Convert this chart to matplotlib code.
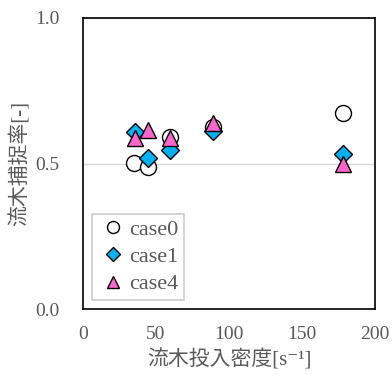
import numpy as np
import matplotlib
matplotlib.use("Agg")
import matplotlib.pyplot as plt

plt.rcParams['font.family'] = ['Liberation Serif', 'Noto Sans CJK JP', 'DejaVu Sans']

# data
x0 = [35.1, 44.7, 59.6, 89.3, 178.0]
y0 = [0.503, 0.489, 0.590, 0.624, 0.675]
x1 = [35.6, 44.3, 59.6, 89.3, 178.0]
y1 = [0.609, 0.518, 0.546, 0.613, 0.533]
x4 = [35.6, 44.3, 59.6, 89.3, 178.0]
y4 = [0.587, 0.615, 0.587, 0.638, 0.498]
labels = ["case0", "case1", "case4"]

grey = "#595959"

fig = plt.figure(figsize=(3.92, 3.74), dpi=100)
ax = fig.add_axes([83 / 392, 1 - 309 / 374, 292 / 392, 291 / 374])

ax.plot(x0, y0, "o", ms=11.5, mfc="white", mec="black", mew=1.0, label=labels[0], zorder=3)
ax.plot(x1, y1, "D", ms=9, mfc="#00b0f0", mec="black", mew=1.0, label=labels[1], zorder=4)
ax.plot(x4, y4, "^", ms=12, mfc="#ff66cc", mec="black", mew=1.0, label=labels[2], zorder=5)

ax.set_xlim(0, 200)
ax.set_ylim(0, 1.0)
ax.set_xticks([0, 50, 100, 150, 200])
ax.set_yticks([0.0, 0.5, 1.0])
ax.set_yticklabels(["0.0", "0.5", "1.0"])
ax.tick_params(length=0, labelsize=14, labelcolor=grey)
ax.tick_params(axis="y", pad=17)
ax.tick_params(axis="x", pad=12)
ax.grid(axis="y", color="#d9d9d9", lw=1.0)
ax.set_axisbelow(True)
for s in ax.spines.values():
    s.set_linewidth(1.2)

ax.set_xlabel("流木投入密度[s⁻¹]", fontsize=15, color=grey, labelpad=5)
ax.set_ylabel("流木捕捉率[-]", fontsize=15, color=grey, labelpad=3)

leg = ax.legend(loc="lower left", fontsize=16, frameon=True, fancybox=False,
                handletextpad=0.0, handlelength=1.4, borderpad=0.25, labelspacing=0.3,
                borderaxespad=0, bbox_to_anchor=(0.031, 0.031), markerscale=0.75)
leg.get_frame().set_edgecolor("#bfbfbf")
leg.get_frame().set_linewidth(1.2)
for t in leg.get_texts():
    t.set_color(grey)

fig.savefig("out.png", dpi=100)
